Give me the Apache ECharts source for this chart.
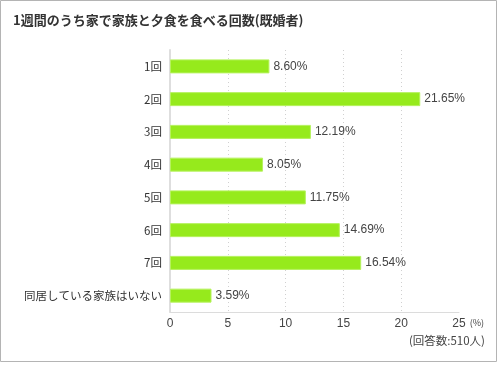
<!DOCTYPE html>
<html><head><meta charset="utf-8">
<script src="https://cdn.jsdelivr.net/npm/echarts@6/dist/echarts.min.js"></script>
<style>
html,body{margin:0;padding:0;background:#fff;}
#c{width:500px;height:365px;}
</style></head>
<body><div id="c"></div>
<script>
const categories = ['1回','2回','3回','4回','5回','6回','7回','同居している家族はいない'];
const values = [8.60, 21.65, 12.19, 8.05, 11.75, 14.69, 16.54, 3.59];
const xTicks = [0, 5, 10, 15, 20, 25];
const title = '1週間のうち家で家族と夕食を食べる回数(既婚者)';
const note = '(回答数:510人)';
const unit = '(%)';

const font = '"Noto Sans CJK JP", "Noto Sans", sans-serif';
const chart = echarts.init(document.getElementById('c'), null, {renderer:'canvas'});
chart.setOption({
  animation:false,
  textStyle:{fontFamily:font},
  title:{text:title, left:8, top:9, textStyle:{fontSize:13, fontWeight:'bold', color:'#333', fontFamily:font}},
  graphic:[
    {type:'rect', shape:{x:0.5,y:0.5,width:496,height:361}, style:{fill:null, stroke:'#b4b4b4', lineWidth:1}, silent:true},
    {type:'text', right:16, top:318, style:{text:unit, fontSize:9, fill:'#444', fontFamily:font}},
    {type:'text', right:15, top:335, style:{text:note, fontSize:11.5, fill:'#444', fontFamily:font}}
  ],
  grid:{left:170, right:41, top:50, bottom:53, containLabel:false},
  xAxis:{
    type:'value', min:xTicks[0], max:xTicks[xTicks.length-1], interval:5,
    axisLine:{show:true, lineStyle:{color:'#dcdcdc', width:1}},
    axisTick:{show:false},
    axisLabel:{color:'#444', fontSize:12, margin:6, fontFamily:'"Liberation Sans", Arial, sans-serif'},
    splitLine:{show:true, showMaxLine:false, showMinLine:false, lineStyle:{color:'#d0d0d0', type:[1,3], width:1}}
  },
  yAxis:{
    type:'category', data:categories, inverse:true,
    axisLine:{show:true, lineStyle:{color:'#dedede', width:2}},
    axisTick:{show:false},
    axisLabel:{color:'#333', fontSize:11.5, margin:8}
  },
  series:[{
    type:'bar', data:values, barWidth:14,
    itemStyle:{color:'#96ea1c', borderColor:'#b6f25e', borderWidth:1},
    label:{show:true, position:'right', distance:4, color:'#444', fontSize:12,
      fontFamily:'"Liberation Sans", Arial, sans-serif',
      formatter:p=>p.value.toFixed(2)+'%'}
  }]
});
</script></body></html>
